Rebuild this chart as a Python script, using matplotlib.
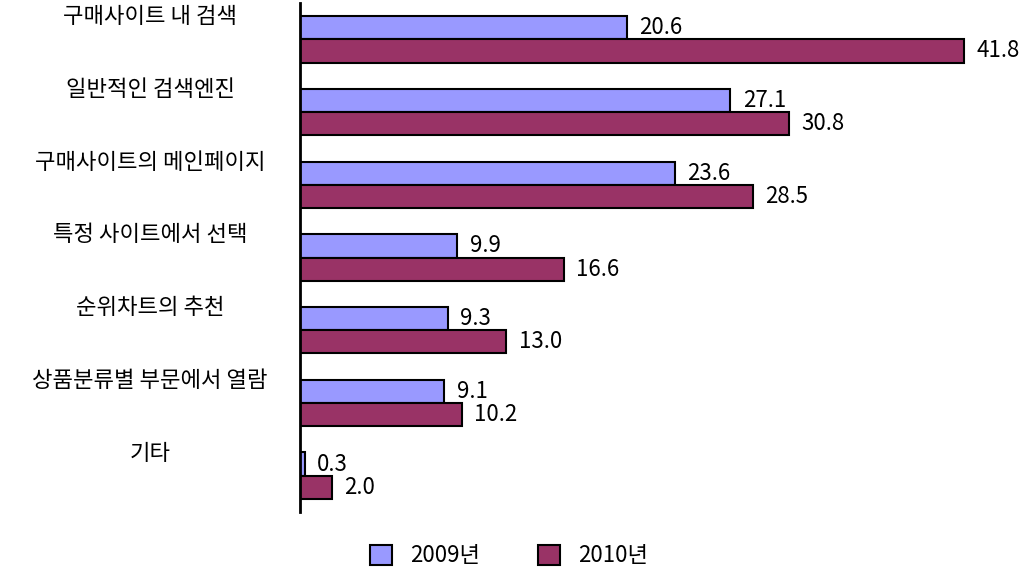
import matplotlib
matplotlib.use("Agg")
import matplotlib.pyplot as plt
import numpy as np

plt.rcParams['font.family'] = ['Noto Sans CJK KR', 'DejaVu Sans']

categories = ['구매사이트 내 검색', '일반적인 검색엔진', '구매사이트의 메인페이지',
              '특정 사이트에서 선택', '순위차트의 추천', '상품분류별 부문에서 열람', '기타']
series_names = ['2009년', '2010년']
values_2009 = [20.6, 27.1, 23.6, 9.9, 9.3, 9.1, 0.3]
values_2010 = [41.8, 30.8, 28.5, 16.6, 13.0, 10.2, 2.0]

color_2009 = '#9999FF'
color_2010 = '#993366'

fig = plt.figure(figsize=(10.24, 5.72), dpi=100)
ax = fig.add_axes([300 / 1024, 1 - 512 / 572, 1 - 300 / 1024, 509 / 572])

y = np.arange(len(categories))
h = 0.32
ax.barh(y - h / 2, values_2009, height=h, color=color_2009, edgecolor='black',
        linewidth=1.5, label=series_names[0])
ax.barh(y + h / 2, values_2010, height=h, color=color_2010, edgecolor='black',
        linewidth=1.5, label=series_names[1])

for i in range(len(categories)):
    for v, off in ((values_2009[i], -h / 2), (values_2010[i], h / 2)):
        ax.annotate(f'{v:.1f}', (v, y[i] + off), xytext=(9, 0), textcoords='offset points',
                    va='center', ha='left', fontsize=16, color='black')
    ax.annotate(categories[i], (0, y[i] - 0.31), xycoords=('axes fraction', 'data'),
                xytext=(-150, 0), textcoords='offset pixels', ha='center', va='center',
                fontsize=16, annotation_clip=False)

ax.set_xlim(0, 45.6)
ax.set_ylim(len(categories) - 0.5, -0.5)
ax.set_xticks([])
ax.set_yticks([])
for s in ['top', 'right', 'bottom']:
    ax.spines[s].set_visible(False)
ax.spines['left'].set_linewidth(2)
ax.spines['left'].set_color('black')

fig.legend(loc='center', bbox_to_anchor=(0.497, 0.028), ncol=2, frameon=False,
           fontsize=16, handlelength=1.0, handleheight=1.0, columnspacing=2.6,
           handletextpad=0.8)

fig.savefig('out.png', dpi=100)
